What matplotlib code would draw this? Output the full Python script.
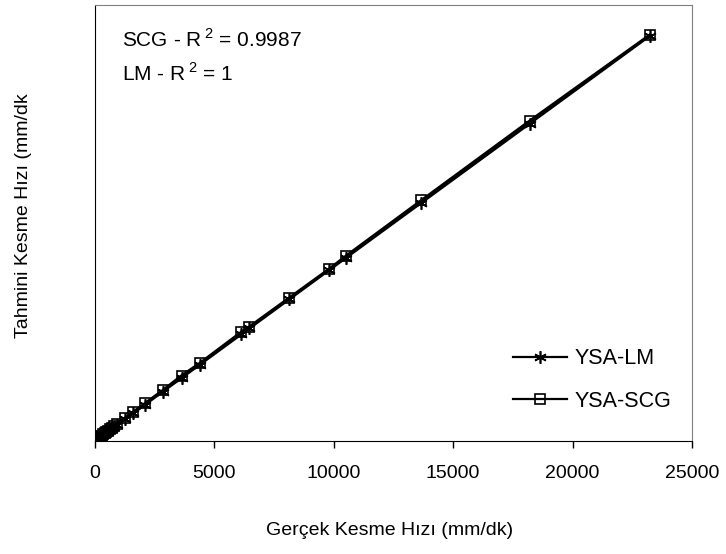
import matplotlib.pyplot as plt
import numpy as np

plt.rcParams['font.family'] = ['Liberation Sans', 'DejaVu Sans']
plt.rcParams['mathtext.fontset'] = 'custom'
plt.rcParams['mathtext.rm'] = 'Liberation Sans'

# gercek (actual) cutting speeds, mm/dk
gercek = [15, 35, 60, 85, 110, 140, 180, 220, 270, 330, 400, 460, 540, 620,
          700, 800, 920, 1250, 1580, 2080, 2830, 3625, 4375, 6125, 6460, 8125,
          9790, 10500, 13670, 18200, 23250]
# YSA-LM predictions (R^2 = 1)
ysa_lm = [15, 35, 60, 85, 110, 140, 180, 220, 270, 330, 400, 460, 540, 620,
          700, 800, 920, 1250, 1580, 2080, 2830, 3625, 4375, 6125, 6460, 8125,
          9790, 10500, 13670, 18200, 23250]
# YSA-SCG predictions (R^2 = 0.9987)
ysa_scg = [30, 55, 85, 110, 140, 170, 215, 260, 310, 380, 450, 520, 600, 690,
           770, 870, 980, 1320, 1650, 2150, 2900, 3750, 4450, 6250, 6550, 8200,
           9850, 10600, 13800, 18350, 23300]

xticks = [0, 5000, 10000, 15000, 20000, 25000]

if __name__ == '__main__':
    fs = 14
    fig = plt.figure(figsize=(7.26, 5.54), dpi=100)
    ax = fig.add_axes([0.131, 0.204, 0.822, 0.787])

    ax.plot(gercek, ysa_lm, color='black', linewidth=2, marker=(6, 2, 0),
            markersize=9, markeredgewidth=1.2, label='YSA-LM')
    ax.plot(gercek, ysa_scg, color='black', linewidth=2, marker='s',
            markersize=6.5, markerfacecolor='none', markeredgewidth=1.2,
            label='YSA-SCG')

    ax.set_xlim(0, 25000)
    ax.set_ylim(0, 25000)
    ax.set_xticks(xticks)
    ax.set_xticklabels([str(t) for t in xticks], fontsize=fs)
    ax.set_yticks([])
    ax.tick_params(axis='x', direction='out', length=5, width=1, pad=12)

    ax.spines['top'].set_color('#808080')
    ax.spines['right'].set_color('#808080')

    ax.text(0.045, 0.920, 'SCG - R$\\,^{2}$ = 0.9987', transform=ax.transAxes,
            fontsize=15, va='center', ha='left')
    ax.text(0.045, 0.842, 'LM - R$\\,^{2}$ = 1', transform=ax.transAxes,
            fontsize=15, va='center', ha='left')

    leg = ax.legend(loc='lower right', bbox_to_anchor=(0.998, 0.022), frameon=False,
                    fontsize=15.5, handlelength=2.5, handletextpad=0.35,
                    labelspacing=1.0)
    for line in leg.get_lines():
        line.set_linewidth(1.6)

    fig.text(0.537, 0.042, 'Gerçek Kesme Hızı (mm/dk)', fontsize=fs, ha='center', va='center')
    fig.text(0.033, 0.61, 'Tahmini Kesme Hızı (mm/dk', fontsize=fs, ha='center', va='center',
             rotation=90)

    plt.savefig('out.png', dpi=100)
